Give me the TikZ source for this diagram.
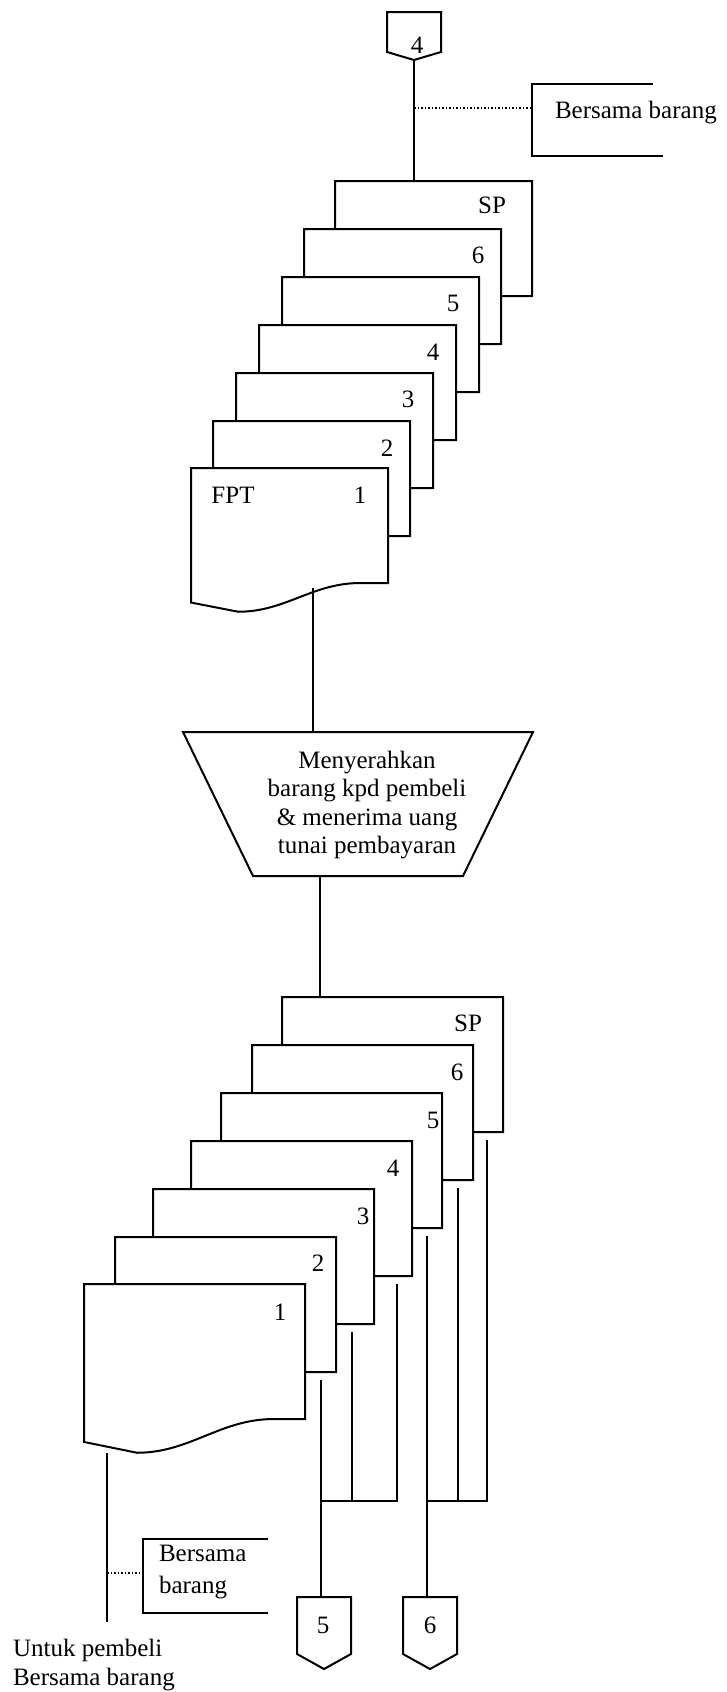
\documentclass[tikz,border=0pt]{standalone}
\usepackage{fontspec}
\setmainfont{Liberation Serif}
\usetikzlibrary{calc}
\newcommand\docsheet[5]{%
  \node[sheetbox, minimum width=#4pt, minimum height=#5pt, anchor=north west] (#1) at (#2,#3) {};
  \filldraw[sheet] (#1.north west) -- (#1.north east) -- (#1.south east)
    -- ({#2+0.86*#4},{#3+#5}) .. controls ({#2+0.615*#4},{#3+#5}) and ({#2+0.48*#4},{#3+1.25*#5}) .. ({#2+0.24*#4},{#3+1.25*#5})
    -- ({#2},{#3+1.17*#5}) -- cycle;
}
\newcommand\offpage[5]{%
  \node[sheetbox, minimum width=54pt, minimum height=#4pt, anchor=north] (#1) at (#2,#3) {};
  \draw[conn, line join=miter] (#1.north west) -- (#1.north east) -- (#1.south east) -- ([yshift=-#5pt]#1.south) -- (#1.south west) -- cycle;
}
\begin{document}
\begin{tikzpicture}[x=1pt,y=-1pt,
  line width=2pt,
  sheetbox/.style={draw=none, inner sep=0pt, outer sep=0pt, rectangle},
  sheet/.style={fill=white, draw=black, line width=2pt, line join=miter},
  conn/.style={draw=black, line width=2pt},
  dotline/.style={line width=1.6pt, dash pattern=on 1.6pt off 1.9pt},
  bracket/.style={line width=2.2pt},
  txt/.style={font=\fontsize{25}{28.5}\selectfont, inner sep=0pt, outer sep=0pt}]
\useasboundingbox (0,0) rectangle (727,1692);

% ---- top off-page connector
\offpage{c4}{414}{12}{40}{8}
\node[txt] (c4t) at (417,45) {4};
\coordinate (c4tip) at ([yshift=-8pt]c4.south);

% ---- top annotation
\node[txt, anchor=base west] (ann1) at (555,118) {Bersama barang};
\draw[bracket] (653,84) -- (532,84) -- (532,156) -- (663,156);
\coordinate (ann1l) at (532,108);

% ---- top stack of documents
\docsheet{tsp}{335}{181}{197}{115}
\node[txt] (ltsp) at (492,205) {SP};
\docsheet{t6}{304}{229}{197}{115}
\node[txt] (lt6) at (478,255) {6};
\docsheet{t5}{282}{277}{197}{115}
\node[txt] (lt5) at (453,303) {5};
\docsheet{t4}{259}{325}{197}{115}
\node[txt] (lt4) at (433,352) {4};
\docsheet{t3}{236}{373}{197}{115}
\node[txt] (lt3) at (408,399) {3};
\docsheet{t2}{213}{421}{197}{115}
\node[txt] (lt2) at (387,448) {2};
\docsheet{t1}{191}{468}{197}{115}
\node[txt] (lt1) at (360,495) {1};
\node[txt] (lfpt) at (233,495) {FPT};

\draw[conn] (c4tip) -- (c4tip |- tsp.north);
\draw[dotline] (c4tip |- ann1l) -- (ann1l);

% ---- process
\node[sheetbox, minimum width=350pt, minimum height=144pt] (proc) at (358,804) {};
\draw[sheet] (proc.north west) -- (proc.north east) -- ([xshift=-70pt]proc.south east) -- ([xshift=70pt]proc.south west) -- cycle;
\node[txt, align=center] (proct) at (367,805) {Menyerahkan\\barang kpd pembeli\\\& menerima uang\\tunai pembayaran};
\coordinate (f1) at (313,588);
\draw[conn] (f1) -- (f1 |- proc.north);

% ---- bottom stack of documents
\docsheet{bsp}{282}{997}{221}{135}
\node[txt] (lbsp) at (468,1023) {SP};
\docsheet{b6}{252}{1045}{221}{135}
\node[txt] (lb6) at (457,1072) {6};
\docsheet{b5}{221}{1093}{221}{135}
\node[txt] (lb5) at (433,1120) {5};
\docsheet{b4}{191}{1141}{221}{135}
\node[txt] (lb4) at (393,1168) {4};
\docsheet{b3}{153}{1189}{221}{135}
\node[txt] (lb3) at (363,1216) {3};
\docsheet{b2}{115}{1237}{221}{135}
\node[txt] (lb2) at (318,1263) {2};
\docsheet{b1}{84}{1284}{221}{135}
\node[txt] (lb1) at (280,1312) {1};

\coordinate (p2) at ([xshift=-38pt]proc.south);
\draw[conn] (p2) -- (p2 |- bsp.north);

% ---- bottom off-page connectors
\offpage{c5}{324}{1597}{57}{15}
\node[txt] (c5t) at (323,1625) {5};
\offpage{c6}{430}{1597}{57}{15}
\node[txt] (c6t) at (430,1625) {6};

% ---- distribution lines
\coordinate (s2) at ([xshift=-15pt,yshift=-8pt]b2.south east);
\coordinate (s3) at ([xshift=-22pt,yshift=-8pt]b3.south east);
\coordinate (s4) at ([xshift=-15pt,yshift=-8pt]b4.south east);
\coordinate (s5) at ([xshift=-15pt,yshift=-8pt]b5.south east);
\coordinate (s6) at ([xshift=-15pt,yshift=-8pt]b6.south east);
\coordinate (ssp) at ([xshift=-16pt,yshift=-8pt]bsp.south east);
\coordinate (jy) at (0,1501);
\draw[conn] (s2) -- (s2 |- c5.north);
\draw[conn] (s3) -- (s3 |- jy);
\draw[conn] (s4) -- (s4 |- jy) -- (s2 |- jy);
\draw[conn] (s5) -- (s5 |- c6.north);
\draw[conn] (s6) -- (s6 |- jy);
\draw[conn] (ssp) -- (ssp |- jy) -- (s5 |- jy);

% ---- copy 1 to buyer
\coordinate (u1) at ([xshift=23pt,yshift=-34pt]b1.south west);
\coordinate (u2) at (107,1622);
\draw[conn] (u1) -- (u2);
\coordinate (ann2l) at (143,1573);
\draw[dotline] (u1 |- ann2l) -- (ann2l);
\draw[bracket] (268,1539) -- (143,1539) -- (143,1613) -- (268,1613);
\node[txt, anchor=base west] (ann2a) at (159,1561) {Bersama};
\node[txt, anchor=base west] (ann2b) at (159,1593) {barang};
\node[txt, anchor=base west] (out1) at (13,1656) {Untuk pembeli};
\node[txt, anchor=base west] (out2) at (13,1685) {Bersama barang};
\end{tikzpicture}
\end{document}
